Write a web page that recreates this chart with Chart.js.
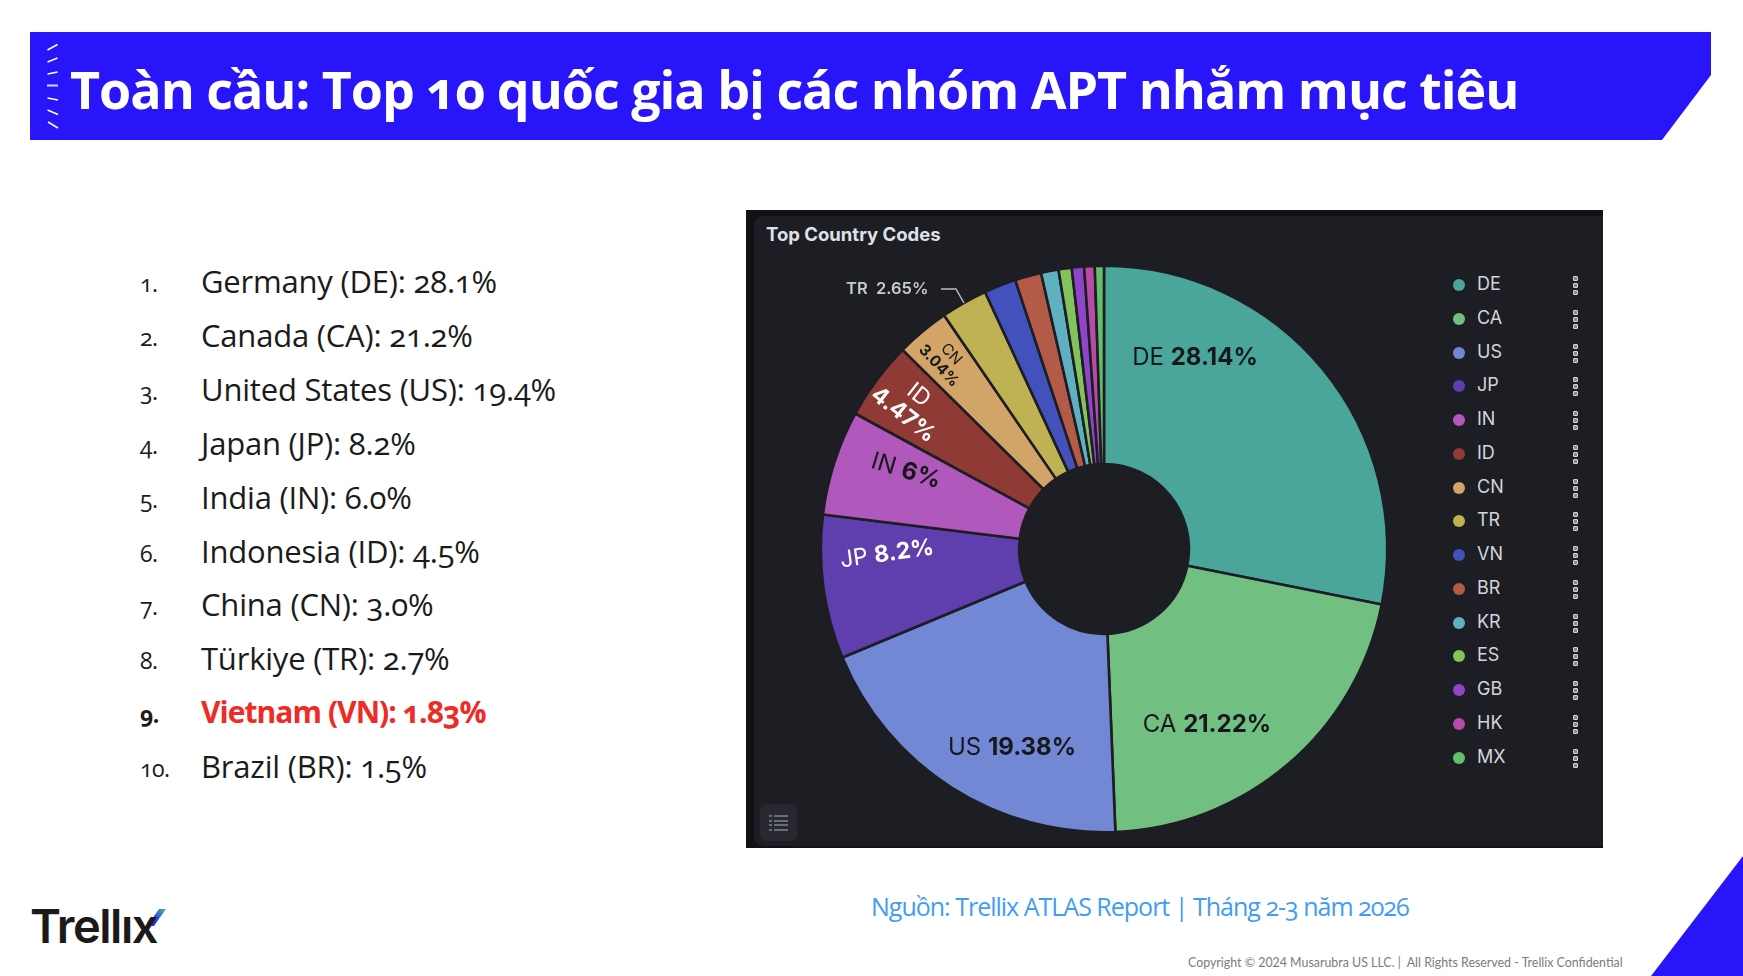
<!DOCTYPE html>
<html lang="vi">
<head>
<meta charset="utf-8">
<title>Top 10 quốc gia bị các nhóm APT nhắm mục tiêu</title>
<script src="https://cdn.jsdelivr.net/npm/chart.js@4/dist/chart.umd.min.js"></script>
<style>
  html, body { margin: 0; padding: 0; background: #fff; }
  #page { position: relative; width: 1743px; height: 976px; overflow: hidden; background: #fff;
          font-family: "Open Sans", sans-serif; }
  #page > * { position: absolute; }
  #banner, #corner { left: 0; top: 0; }
  #heading { left: 70px; top: 51px; margin: 0; font-size: 52px; line-height: 76px; font-weight: 700;
             color: #fff; white-space: nowrap; font-feature-settings: "onum"; letter-spacing: -1.03px; }
  #ranking { left: 0; top: 0; margin: 0; padding: 0; list-style: none; }
  #ranking li { position: absolute; left: 0; height: 54px; line-height: 54px; white-space: nowrap;
                color: #1b1b1b; font-size: 31px; font-feature-settings: "onum"; letter-spacing: -0.2px; }
  #ranking .num { position: absolute; left: 140px; font-size: 23px; top: 2px; letter-spacing: -0.5px; }
  #ranking .txt { position: absolute; left: 201px; }
  #ranking li.hot { color: #ee2b24; font-weight: 700; font-size: 30px; letter-spacing: -0.95px; }
  #ranking li.hot .num { color: #1b1b1b; }
  #panel { left: 746px; top: 210px; width: 857px; height: 638px; background: #111216; }
  #inner { left: 754px; top: 216px; width: 849px; height: 630px; background: #1d1e24; border-radius: 9px 0 0 9px; }
  #panelTitle { left: 766px; top: 222px; line-height: 24px; font: 700 18.5px/24px Inter, sans-serif; color: #dfe1e7; white-space: nowrap; }
  #chartBox { left: 804px; top: 249px; width: 600px; height: 600px; }
  #legend { left: 0; top: 0; }
  .row { position: absolute; height: 20px; }
  .dot { position: absolute; left: 1453px; top: 4px; width: 12px; height: 12px; border-radius: 50%; }
  .code { position: absolute; left: 1477px; top: -1px; font: 400 18px/20px Inter, sans-serif; color: #d2d5dc; }
  .kebab { position: absolute; left: 1573px; top: 1px; width: 5px; }
  .kebab i { display: block; width: 5px; height: 5px; margin-bottom: 2px; background: #85878e; border: 1.2px solid #d4d6dc; box-sizing: border-box; border-radius: 1px; }
  #listBtn { left: 760px; top: 804px; width: 37px; height: 37px; border-radius: 6px; background: #272830; }
  #source { left: 871px; top: 888px; font-size: 25px; line-height: 36px; color: #3f9df7; white-space: nowrap; font-feature-settings: "onum"; letter-spacing: -1px; }
  #copyright { left: 1188px; top: 954px; font: 400 12.4px/18px Lato, sans-serif; color: #7b7b7b; white-space: nowrap; }
  #logo { left: 30px; top: 896px; font: 600 47px/60px Inter, sans-serif; color: #1a1a1a; letter-spacing: -1.5px; white-space: nowrap; }
</style>
</head>
<body>
<div id="page">
  <svg id="banner" width="1743" height="976">
    <polygon points="30,32 1711,32 1711,75 1662,140 30,140" fill="#2815fa"/>
    <g stroke="#fff" stroke-width="1.5">
      <line x1="47.5" y1="50" x2="57.5" y2="44.5"/>
      <line x1="47.5" y1="62" x2="57.5" y2="58"/>
      <line x1="47.5" y1="74" x2="57.5" y2="72"/>
      <line x1="47" y1="85.5" x2="58" y2="85.5" stroke="#d8d6fb" stroke-width="2"/>
      <line x1="47.5" y1="98" x2="58" y2="100"/>
      <line x1="47.5" y1="110" x2="58" y2="114.5"/>
      <line x1="48" y1="122" x2="58" y2="128"/>
    </g>
    <polygon points="1743,856 1743,976 1651,976" fill="#2815fa"/>
    <defs>
      <linearGradient id="slash" x1="0" y1="1" x2="1" y2="0">
        <stop offset="0.35" stop-color="#1f35f0"/>
        <stop offset="1" stop-color="#4fb89a"/>
      </linearGradient>
    </defs>
    <polygon points="159,909 166,909 154,926 147,926" fill="url(#slash)"/>
  </svg>
  <h1 id="heading">Toàn cầu: Top 10 quốc gia bị các nhóm APT nhắm mục tiêu</h1>
  <ul id="ranking"></ul>
  <div id="panel"></div>
  <div id="inner"></div>
  <div id="panelTitle">Top Country Codes</div>
  <div id="chartBox"><canvas id="pie" width="600" height="600"></canvas></div>
  <div id="legend"></div>
  <div id="listBtn">
    <svg width="37" height="37" stroke="#7d7f88" stroke-width="1.6">
      <line x1="9" y1="12" x2="12" y2="12"/><line x1="14" y1="12" x2="28" y2="12"/>
      <line x1="9" y1="17" x2="12" y2="17"/><line x1="14" y1="17" x2="28" y2="17"/>
      <line x1="9" y1="21" x2="12" y2="21"/><line x1="14" y1="21" x2="28" y2="21"/>
      <line x1="9" y1="26" x2="12" y2="26"/><line x1="14" y1="26" x2="28" y2="26"/>
    </svg>
  </div>
  <div id="source">Nguồn: Trellix ATLAS Report | Tháng 2-3 năm 2026</div>
  <div id="copyright">Copyright © 2024 Musarubra US LLC. |&nbsp; All Rights Reserved - Trellix Confidential</div>
  <div id="logo">Trellıx</div>
</div>
<script>
// Slice data, in drawing order clockwise from twelve o'clock
const countryCodes = ["DE", "CA", "US", "JP", "IN", "ID", "CN", "TR", "VN", "BR", "KR", "ES", "GB", "HK", "MX"];
const shareValues = [28.14, 21.22, 19.38, 8.2, 6, 4.47, 3.04, 2.65, 1.83, 1.5, 1.0, 0.75, 0.7, 0.6, 0.52];
const sliceColors = ["#4aa59b", "#72bf82", "#7288d5", "#5f3eae", "#b058bb", "#903a35", "#d2a468", "#bfb252",
                     "#4351bd", "#b35b47", "#5fb0c1", "#82c45b", "#8e45c8", "#b84aa8", "#62c06b"];

// Ranked list on the left
const rankedNames = ["Germany (DE)", "Canada (CA)", "United States (US)", "Japan (JP)", "India (IN)",
                     "Indonesia (ID)", "China (CN)", "Türkiye (TR)", "Vietnam (VN)", "Brazil (BR)"];
const rankedShares = ["28.1%", "21.2%", "19.4%", "8.2%", "6.0%", "4.5%", "3.0%", "2.7%", "1.83%", "1.5%"];
const highlightedRank = 8;

// Where each labelled slice carries its text, relative to the pie centre
const sliceLabels = [
  { i: 0, dx: 91,   dy: -191, angle: 0,   size: 24, color: "#17181c" },
  { i: 1, dx: 103,  dy: 176,  angle: 0,   size: 24, color: "#17181c" },
  { i: 2, dx: -92,  dy: 199,  angle: 0,   size: 24, color: "#17181c" },
  { i: 3, dx: -217, dy: 5,    angle: -8,  size: 23, color: "#ffffff" },
  { i: 4, dx: -198, dy: -78,  angle: 17,  size: 24, color: "#17181c" },
  { i: 5, dx: -193, dy: -144, angle: 38,  size: 23, color: "#ffffff", stacked: true, gap: 25 },
  { i: 6, dx: -159, dy: -189, angle: 47,  size: 15.5, color: "#17181c", stacked: true, gap: 17 }
];
const outsideLabel = { i: 7, dx: -220, dy: -260, size: 16.5, color: "#c6c9d0" };
const leaderLine = [[-163, -260], [-148, -260], [-140, -246]];

const fmt = v => v + "%";

// Ranked list
const ranking = document.getElementById("ranking");
rankedNames.forEach((name, k) => {
  const li = document.createElement("li");
  li.style.top = (254 + k * 53.9) + "px";
  if (k === highlightedRank) li.className = "hot";
  li.innerHTML = `<span class="num">${k + 1}.</span><span class="txt">${name}: ${rankedShares[k]}</span>`;
  ranking.appendChild(li);
});

// Legend column with its row menus
const legend = document.getElementById("legend");
countryCodes.forEach((code, k) => {
  const row = document.createElement("div");
  row.className = "row";
  row.style.top = (275 + k * 33.75) + "px";
  row.innerHTML = `<span class="dot" style="background:${sliceColors[k]}"></span><span class="code">${code}</span>` +
                  `<span class="kebab"><i></i><i></i><i></i></span>`;
  legend.appendChild(row);
});

// Writes "CODE value%" with the value in bold, centred or stacked on two lines
function drawPair(ctx, code, value, spec) {
  const regular = `400 ${spec.size}px Inter, sans-serif`;
  const bold = `700 ${spec.size}px Inter, sans-serif`;
  ctx.fillStyle = spec.color;
  ctx.textBaseline = "middle";
  if (spec.stacked) {
    ctx.textAlign = "center";
    ctx.font = regular;
    ctx.fillText(code, 0, -spec.gap / 2);
    ctx.font = bold;
    ctx.fillText(value, 0, spec.gap / 2);
    return;
  }
  ctx.textAlign = "left";
  ctx.font = regular;
  const head = code + " ";
  const w1 = ctx.measureText(head).width;
  ctx.font = bold;
  const w2 = ctx.measureText(value).width;
  const x0 = -(w1 + w2) / 2;
  ctx.font = regular;
  ctx.fillText(head, x0, 0);
  ctx.font = bold;
  ctx.fillText(value, x0 + w1, 0);
}

const pieLabels = {
  id: "pieLabels",
  afterDatasetsDraw(chart) {
    const ctx = chart.ctx;
    const arcs = chart.getDatasetMeta(0).data;
    const cx = arcs[0].x, cy = arcs[0].y;
    sliceLabels.forEach(spec => {
      ctx.save();
      ctx.translate(cx + spec.dx, cy + spec.dy);
      ctx.rotate(spec.angle * Math.PI / 180);
      drawPair(ctx, countryCodes[spec.i], fmt(shareValues[spec.i]), spec);
      ctx.restore();
    });
    // Callout for the slice too narrow to hold its text
    ctx.save();
    ctx.fillStyle = outsideLabel.color;
    ctx.textBaseline = "middle";
    ctx.font = `600 ${outsideLabel.size}px Inter, sans-serif`;
    ctx.fillText(countryCodes[outsideLabel.i] + "  " + fmt(shareValues[outsideLabel.i]), cx + outsideLabel.dx - 38, cy + outsideLabel.dy);
    ctx.strokeStyle = "#b9bcc4";
    ctx.lineWidth = 1.5;
    ctx.beginPath();
    leaderLine.forEach(([x, y], n) => n ? ctx.lineTo(cx + x, cy + y) : ctx.moveTo(cx + x, cy + y));
    ctx.stroke();
    ctx.restore();
  }
};

new Chart(document.getElementById("pie"), {
  type: "doughnut",
  data: {
    labels: countryCodes,
    datasets: [{
      data: shareValues,
      backgroundColor: sliceColors,
      borderColor: "#1d1e24",
      borderWidth: 2.6
    }]
  },
  options: {
    responsive: false,
    animation: false,
    cutout: "30%",
    layout: { padding: 15.5 },
    plugins: { legend: { display: false }, tooltip: { enabled: false } }
  },
  plugins: [pieLabels]
});
</script>
</body>
</html>
